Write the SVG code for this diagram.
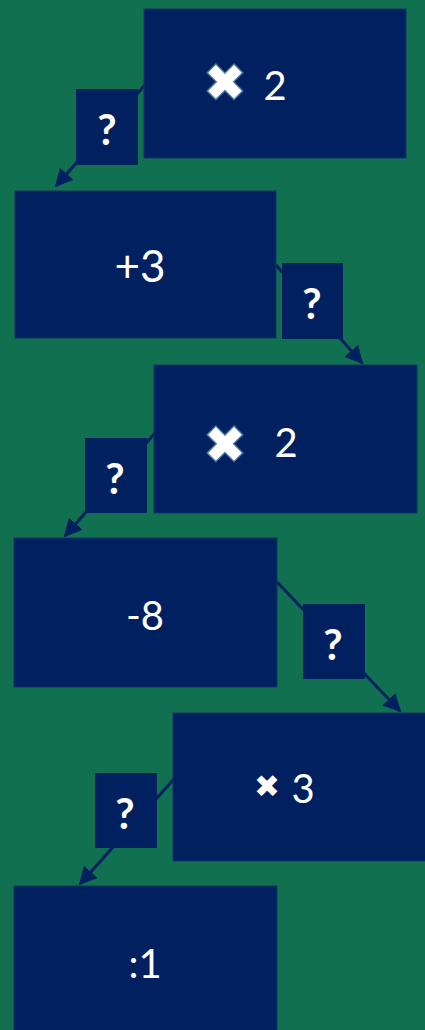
<svg xmlns="http://www.w3.org/2000/svg" width="425" height="1030" viewBox="0 0 425 1030">
<defs>
<style>
.box{fill:#00205f;stroke:#0f3468;stroke-width:1}
.q{fill:#00205f}
.t{fill:#ffffff;font-family:Lato,"Open Sans",sans-serif;font-size:40px;text-anchor:middle}
.big{font-size:44px}
.qt{fill:#ffffff;font-family:Lato,"Open Sans",sans-serif;font-size:42px;font-weight:bold;text-anchor:middle}
.x{fill:#ffffff;stroke:#4a78a0;stroke-width:3;paint-order:stroke;font-family:"DejaVu Sans",sans-serif;font-size:50px;text-anchor:middle}
.xs{fill:#ffffff;font-family:"DejaVu Sans",sans-serif;font-size:31px;text-anchor:middle}
.c{stroke:#00205f;stroke-width:3;fill:none;marker-end:url(#ah)}
</style>
<marker id="ah" viewBox="0 0 10 10" refX="9" refY="5" markerWidth="6" markerHeight="6" orient="auto" markerUnits="strokeWidth">
<path d="M0,0 L10,5 L0,10 Z" fill="#00205f"/>
</marker>
</defs>
<rect width="425" height="1030" fill="#117050"/>
<g id="connectors">
<line class="c" x1="145" y1="85" x2="56" y2="186"/>
<line class="c" x1="276" y1="265" x2="362" y2="363"/>
<line class="c" x1="155" y1="433" x2="65" y2="536"/>
<line class="c" x1="277" y1="582" x2="400" y2="711"/>
<line class="c" x1="174" y1="779" x2="80" y2="884"/>
</g>
<g id="node1">
<rect class="box" x="144" y="9" width="262" height="149"/>
<text class="x" x="225" y="100">✖</text>
<text class="t" x="275" y="100">2</text>
</g>
<g id="q1">
<rect class="q" x="76" y="89" width="62" height="76"/>
<text class="qt" x="107" y="145">?</text>
</g>
<g id="node2">
<rect class="box" x="15" y="191" width="261" height="147"/>
<text class="t big" x="140" y="282">+3</text>
</g>
<g id="q2">
<rect class="q" x="282" y="263" width="61" height="76"/>
<text class="qt" x="312" y="319">?</text>
</g>
<g id="node3">
<rect class="box" x="154" y="365" width="263" height="148"/>
<text class="x" x="225" y="462">✖</text>
<text class="t" x="286" y="457">2</text>
</g>
<g id="q3">
<rect class="q" x="85" y="438" width="62" height="75"/>
<text class="qt" x="115" y="494">?</text>
</g>
<g id="node4">
<rect class="box" x="14" y="538" width="263" height="149"/>
<text class="t" x="145" y="630">-8</text>
</g>
<g id="q4">
<rect class="q" x="303" y="604" width="62" height="75"/>
<text class="qt" x="333" y="660">?</text>
</g>
<g id="node5">
<rect class="box" x="173" y="713" width="260" height="148"/>
<text class="xs" x="267" y="797">✖</text>
<text class="t" x="303" y="803">3</text>
</g>
<g id="q5">
<rect class="q" x="95" y="773" width="62" height="75"/>
<text class="qt" x="125" y="829">?</text>
</g>
<g id="node6">
<rect class="box" x="14" y="886" width="263" height="150"/>
<text class="t" x="145" y="978">:1</text>
</g>
</svg>
